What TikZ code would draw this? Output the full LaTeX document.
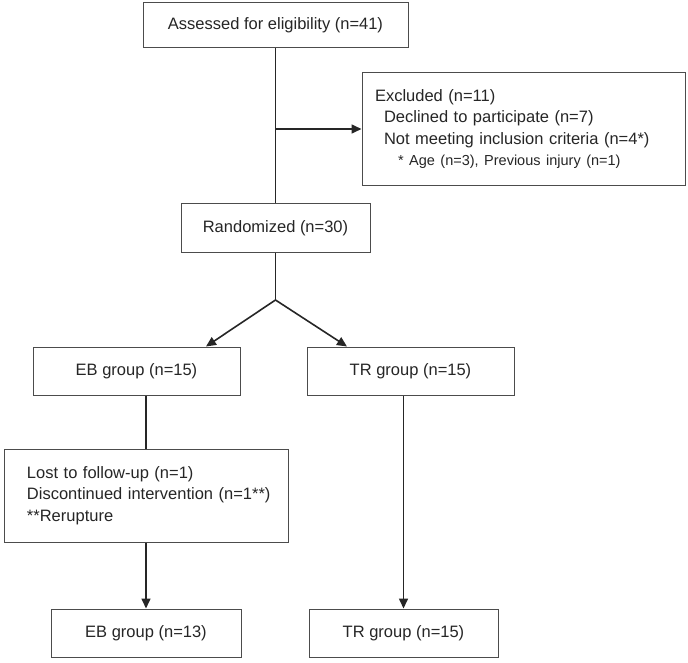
\documentclass[tikz,border=0pt]{standalone}
\usepackage{fontspec}
\setmainfont{Liberation Sans}
\usetikzlibrary{arrows.meta,calc}
\begin{document}
\begin{tikzpicture}[x=1pt,y=-1pt,
  box/.style={draw=black!70, line width=1pt, fill=white, text=black!85,
    font=\fontsize{16.5}{21.5}\selectfont, inner sep=0pt},
  conn/.style={draw=black!85, line width=1.6pt},
  arr/.style={conn, -{Triangle[length=10pt,width=9pt]}}]
\useasboundingbox (0,0) rectangle (688,663);
\node[box, minimum width=265pt, minimum height=45pt] (assess) at (275.5,25.5) {Assessed for eligibility (n=41)};
\node[box, minimum width=323pt, minimum height=113pt, text width=297pt, inner xsep=13pt, align=left] (excl) at (523.5,129)
  {Excluded (n=11)\\
   \hspace*{9pt}Declined to participate (n=7)\\
   \hspace*{9pt}Not meeting inclusion criteria (n=4*)\\
   \hspace*{23pt}{\fontsize{14.5}{21.5}\selectfont * Age (n=3), Previous injury (n=1)}};
\node[box, minimum width=189pt, minimum height=48pt] (rand) at (275.5,228) {Randomized (n=30)};
\node[box, minimum width=207pt, minimum height=48pt] (eb1) at (136.5,371) {EB group (n=15)};
\node[box, minimum width=207pt, minimum height=48pt] (tr1) at (410.5,371) {TR group (n=15)};
\node[box, minimum width=284pt, minimum height=93pt, text width=276pt, inner xsep=4pt, align=left] (lost) at (146,495.5)
  {\hspace*{19pt}Lost to follow-up (n=1)\\
   \hspace*{19pt}Discontinued intervention (n=1**)\\
   \hspace*{19pt}**Rerupture};
\node[box, minimum width=190pt, minimum height=48pt] (eb2) at (146,633) {EB group (n=13)};
\node[box, minimum width=189pt, minimum height=48pt] (tr2) at (403.5,633) {TR group (n=15)};
\coordinate (split) at (275.5,300);
\coordinate (ebtip) at ([xshift=69.5pt]eb1.north);
\coordinate (trtip) at ([xshift=-63.5pt]tr1.north);
\draw[conn] (assess.south) -- (rand.north);
\draw[arr] (assess.south |- excl.west) -- (excl.west);
\draw[conn] (rand.south) -- (split);
\draw[arr] (split) -- (ebtip);
\draw[arr] (split) -- (trtip);
\draw[conn] (lost.north |- eb1.south) -- (lost.north);
\draw[arr] (lost.south) -- (eb2.north);
\draw[arr] (tr2.north |- tr1.south) -- (tr2.north);
\end{tikzpicture}
\end{document}
